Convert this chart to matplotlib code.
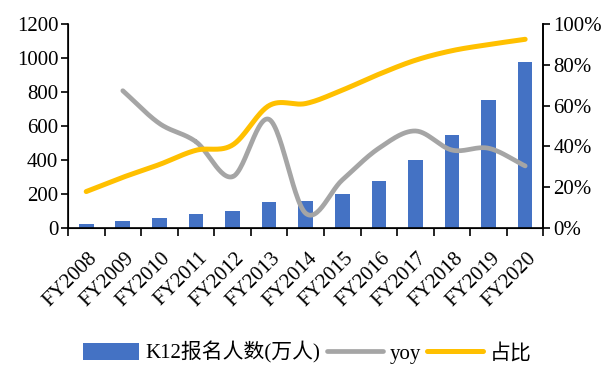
import numpy as np
import matplotlib
matplotlib.use('Agg')
import matplotlib.pyplot as plt
from matplotlib.ticker import PercentFormatter

plt.rcParams['font.family'] = ['Liberation Serif', 'Noto Sans CJK SC']

years = ['FY2008', 'FY2009', 'FY2010', 'FY2011', 'FY2012', 'FY2013', 'FY2014',
         'FY2015', 'FY2016', 'FY2017', 'FY2018', 'FY2019', 'FY2020']
enroll = [22, 37, 55, 78, 97, 150, 158, 197, 272, 396, 548, 752, 976]
yoy = [None, 0.673, 0.512, 0.422, 0.25, 0.532, 0.07, 0.234, 0.39, 0.475, 0.381, 0.39, 0.303]
share = [0.177, 0.247, 0.31, 0.38, 0.406, 0.60, 0.61, 0.676, 0.754, 0.823, 0.87, 0.90, 0.926]


def smooth(x, y, n=30):
    # catmull-rom curve through the points, like excel's smoothed line
    x = np.asarray(x, float)
    y = np.asarray(y, float)
    px = np.concatenate([[2 * x[0] - x[1]], x, [2 * x[-1] - x[-2]]])
    py = np.concatenate([[2 * y[0] - y[1]], y, [2 * y[-1] - y[-2]]])
    xs, ys = [], []
    t = np.linspace(0, 1, n)
    for i in range(1, len(px) - 2):
        for p, out in ((px, xs), (py, ys)):
            p0, p1, p2, p3 = p[i - 1], p[i], p[i + 1], p[i + 2]
            out.append(0.5 * (2 * p1 + (-p0 + p2) * t
                              + (2 * p0 - 5 * p1 + 4 * p2 - p3) * t ** 2
                              + (-p0 + 3 * p1 - 3 * p2 + p3) * t ** 3))
    return np.concatenate(xs), np.concatenate(ys)


x = np.arange(len(years))
fig = plt.figure(figsize=(6.12, 3.73), dpi=100)
ax = fig.add_axes([0.111, 0.39, 0.777, 0.545])
bars = ax.bar(x, enroll, width=0.4, color='#4472C4', label='K12报名人数(万人)', zorder=2)
ax.set_ylim(0, 1200)
ax.set_yticks(range(0, 1201, 200))
ax.set_xlim(-0.5, len(years) - 0.5)
ax.set_xticks(np.arange(-0.5, len(years)), minor=False)
ax.set_xticklabels([])
ax.set_xticks(x + 0.05, minor=True)
ax.set_xticklabels(years, minor=True, rotation=45, ha='right', va='top',
                   rotation_mode='anchor', fontsize=15)
ax.tick_params(axis='x', which='major', length=6, width=1.2, direction='out')
ax.tick_params(axis='x', which='minor', length=0, pad=15)
ax.tick_params(axis='y', length=5, width=1.2, labelsize=15, pad=2)
ax.spines['top'].set_visible(False)
for s in ['left', 'bottom', 'right']:
    ax.spines[s].set_linewidth(1.2)

ax2 = ax.twinx()
yx = [i for i, v in zip(x, yoy) if v is not None]
yv = [v for v in yoy if v is not None]
sx, sy = smooth(yx, yv)
ax2.plot(sx, sy, color='#A5A5A5', lw=3.4, solid_capstyle='round', label='yoy')
sx, sy = smooth(x, share)
ax2.plot(sx, sy, color='#FFC000', lw=3.6, solid_capstyle='round', label='占比')
ax2.set_ylim(0, 1)
ax2.set_yticks(np.arange(0, 1.01, 0.2))
ax2.yaxis.set_major_formatter(PercentFormatter(1.0, decimals=0))
ax2.tick_params(axis='y', length=5, width=1.2, labelsize=15, pad=2)
ax2.spines['top'].set_visible(False)
ax2.spines['right'].set_linewidth(1.2)

h1, l1 = ax.get_legend_handles_labels()
h2, l2 = ax2.get_legend_handles_labels()
fig.legend(h1 + h2, l1 + l2, loc='center', bbox_to_anchor=(0.502, 0.055), ncol=3,
           frameon=False, fontsize=15, handlelength=2.7, handleheight=0.9,
           handletextpad=0.3, columnspacing=0.3)

fig.savefig('out.png', dpi=100)
